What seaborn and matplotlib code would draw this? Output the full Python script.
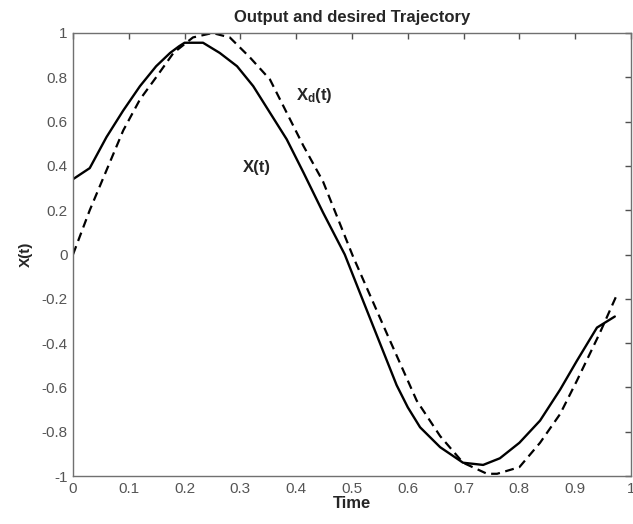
import matplotlib
matplotlib.use("Agg")
import matplotlib.pyplot as plt
import seaborn as sns
import pandas as pd

# Output trajectory X(t)
t_out = [0.000, 0.030, 0.060, 0.090, 0.120, 0.149, 0.174, 0.190, 0.200, 0.233,
         0.263, 0.294, 0.323, 0.353, 0.383, 0.413, 0.448, 0.487, 0.520, 0.550,
         0.580, 0.600, 0.622, 0.658, 0.699, 0.735, 0.765, 0.800, 0.837, 0.873,
         0.903, 0.939, 0.971]
x_out = [0.34, 0.39, 0.53, 0.65, 0.76, 0.85, 0.91, 0.94, 0.956, 0.956,
         0.91, 0.85, 0.76, 0.64, 0.52, 0.37, 0.19, 0.00, -0.21, -0.40,
         -0.59, -0.69, -0.78, -0.87, -0.94, -0.95, -0.92, -0.85, -0.75, -0.61,
         -0.48, -0.33, -0.28]

# Desired trajectory Xd(t)
t_des = [0.000, 0.030, 0.060, 0.090, 0.120, 0.149, 0.180, 0.215, 0.250, 0.281,
         0.317, 0.353, 0.383, 0.413, 0.448, 0.502, 0.563, 0.616, 0.658, 0.699,
         0.742, 0.760, 0.800, 0.837, 0.873, 0.903, 0.944, 0.975]
x_des = [0.00, 0.20, 0.38, 0.56, 0.70, 0.80, 0.91, 0.98, 1.00, 0.98,
         0.89, 0.79, 0.64, 0.49, 0.33, -0.01, -0.36, -0.66, -0.82, -0.94,
         -0.99, -0.99, -0.96, -0.85, -0.72, -0.57, -0.355, -0.18]

x_ticks = [0, 0.1, 0.2, 0.3, 0.4, 0.5, 0.6, 0.7, 0.8, 0.9, 1]
x_tick_labels = ["0", "0.1", "0.2", "0.3", "0.4", "0.5", "0.6", "0.7", "0.8", "0.9", "1"]
y_ticks = [-1, -0.8, -0.6, -0.4, -0.2, 0, 0.2, 0.4, 0.6, 0.8, 1]
y_tick_labels = ["-1", "-0.8", "-0.6", "-0.4", "-0.2", "0", "0.2", "0.4", "0.6", "0.8", "1"]

sns.set_style("white")
plt.rcParams["font.family"] = ["Liberation Sans", "DejaVu Sans"]
plt.rcParams["mathtext.fontset"] = "custom"
plt.rcParams["mathtext.bf"] = "Liberation Sans:bold"
plt.rcParams["mathtext.rm"] = "Liberation Sans"

fig = plt.figure(figsize=(6.33, 5.24), dpi=100)
ax = fig.add_axes([73 / 633, 48 / 524, 558 / 633, 443 / 524])

df_out = pd.DataFrame({"t": t_out, "x": x_out})
df_des = pd.DataFrame({"t": t_des, "x": x_des})
sns.lineplot(data=df_out, x="t", y="x", ax=ax, color="black", lw=1.7,
             sort=False, estimator=None)
sns.lineplot(data=df_des, x="t", y="x", ax=ax, color="black", lw=1.6,
             sort=False, estimator=None)
ax.lines[-1].set_dashes((4, 2.5))

ax.set_xlim(0, 1)
ax.set_ylim(-1, 1)
ax.set_xticks(x_ticks)
ax.set_xticklabels(x_tick_labels)
ax.set_yticks(y_ticks)
ax.set_yticklabels(y_tick_labels)

gray = "#555555"
for s in ax.spines.values():
    s.set_visible(True)
    s.set_color("#707070")
    s.set_linewidth(1.0)
ax.tick_params(direction="in", length=4.5, width=1.0, color="#505050",
               labelcolor=gray, labelsize=11, top=True, right=True, pad=4)

title_font = ["Liberation Sans Narrow", "Liberation Sans"]
ax.set_title("Output and desired Trajectory", fontsize=12, fontweight="bold",
             family=title_font, pad=8)
ax.set_xlabel("Time", fontsize=12, fontweight="bold", family=title_font, labelpad=0)
ax.set_ylabel("X(t)", fontsize=11, fontweight="bold", family=title_font, labelpad=6)

ax.text(0.305, 0.395, "X(t)", fontsize=12, fontweight="bold", ha="left", va="center")
ax.text(0.40, 0.72, r"$\mathbf{X_d}$(t)", fontsize=12, fontweight="bold",
        ha="left", va="center")

fig.savefig("out.png", dpi=100)
